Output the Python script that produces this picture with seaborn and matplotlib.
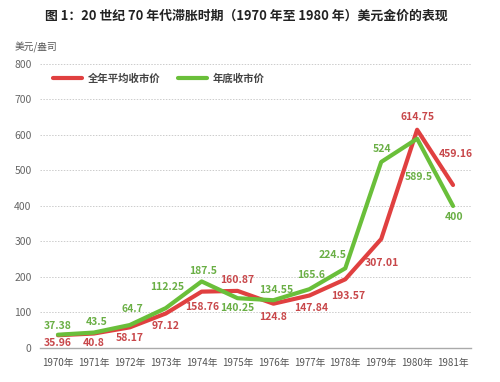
import matplotlib.pyplot as plt
import numpy as np
import pandas as pd
import seaborn as sns

sns.set_style("white")
plt.rcParams['font.family'] = ['Noto Sans CJK SC', 'DejaVu Sans']

years = ["1970年", "1971年", "1972年", "1973年", "1974年", "1975年",
         "1976年", "1977年", "1978年", "1979年", "1980年", "1981年"]
avg_price = [35.96, 40.8, 58.17, 97.12, 158.76, 160.87, 124.8, 147.84, 193.57, 307.01, 614.75, 459.16]
end_price = [37.38, 43.5, 64.7, 112.25, 187.5, 140.25, 134.55, 165.6, 224.5, 524, 589.5, 400]
avg_name = "全年平均收市价"
end_name = "年底收市价"

red = "#e04040"
green = "#6abf3a"

df = pd.DataFrame({
    "pos": list(range(len(years))) * 2,
    "price": avg_price + end_price,
    "series": [avg_name] * len(years) + [end_name] * len(years),
})

fig = plt.figure(figsize=(5, 3.82), dpi=100)
ax = fig.add_axes([0.08, 0.089, 0.862, 0.7435])

sns.lineplot(data=df, x="pos", y="price", hue="series", hue_order=[avg_name, end_name],
             palette=[red, green], linewidth=3, ax=ax, legend=True)

# label offsets in pixels (dx, dy)
avg_off = [(0, -8), (0, -9), (0, -11), (0, -12), (1, -15), (0, 11), (0, -13),
           (2, -12), (3, -17), (1, -24), (0, 13), (3, 31)]
end_off = [(0, 9), (3, 11), (3, 16), (1, 21), (2, 10), (0, -10), (3, 10),
           (2, 14), (-13, 13), (1, 13), (2, -38), (1, -11)]
for i, v in enumerate(avg_price):
    ax.annotate(f"{v:g}", (i, v), xytext=avg_off[i], textcoords="offset pixels",
                ha="center", va="center", fontsize=7.5, fontweight="bold", color="#c8474a")
for i, v in enumerate(end_price):
    ax.annotate(f"{v:g}", (i, v), xytext=end_off[i], textcoords="offset pixels",
                ha="center", va="center", fontsize=7.5, fontweight="bold", color="#6aaf45")

ax.set_xlim(-0.5, len(years) - 0.5)
ax.set_ylim(0, 800)
ax.set_yticks(np.arange(0, 801, 100))
ax.set_xticks(range(len(years)))
ax.set_xticklabels(years)
ax.set_xticks(np.arange(-0.5, len(years), 1), minor=True)
ax.tick_params(axis="x", which="major", length=0, labelsize=7, labelcolor="#555555", pad=7)
ax.tick_params(axis="x", which="minor", length=4, color="#aaaaaa", direction="out")
ax.tick_params(axis="y", length=8, direction="in", color="#bbbbbb", labelsize=7.5,
               labelcolor="#666666", pad=6)
ax.set_xlabel("")
ax.set_ylabel("")
ax.grid(axis="y", linestyle=(0, (1.5, 1.5)), color="#cccccc", linewidth=0.7)
for s in ["left", "right", "top"]:
    ax.spines[s].set_visible(False)
ax.spines["bottom"].set_color("#aaaaaa")
ax.spines["bottom"].set_linewidth(1)

leg = ax.legend(loc="upper left", bbox_to_anchor=(0.008, 1.0), ncol=2, frameon=False,
                handlelength=2.8, columnspacing=1.6, fontsize=7.5, handletextpad=0.6)
for line in leg.get_lines():
    line.set_linewidth(3)
for t in leg.get_texts():
    t.set_color("#444444")
    t.set_fontweight("bold")

fig.text(0.492, 0.96, "图 1：20 世纪 70 年代滞胀时期（1970 年至 1980 年）美元金价的表现",
         ha="center", va="center", fontsize=9.3, fontweight="bold", color="#222222")
fig.text(0.03, 0.877, "美元/盎司", ha="left", va="center", fontsize=7, color="#555555")

fig.savefig("out.png", dpi=100)
